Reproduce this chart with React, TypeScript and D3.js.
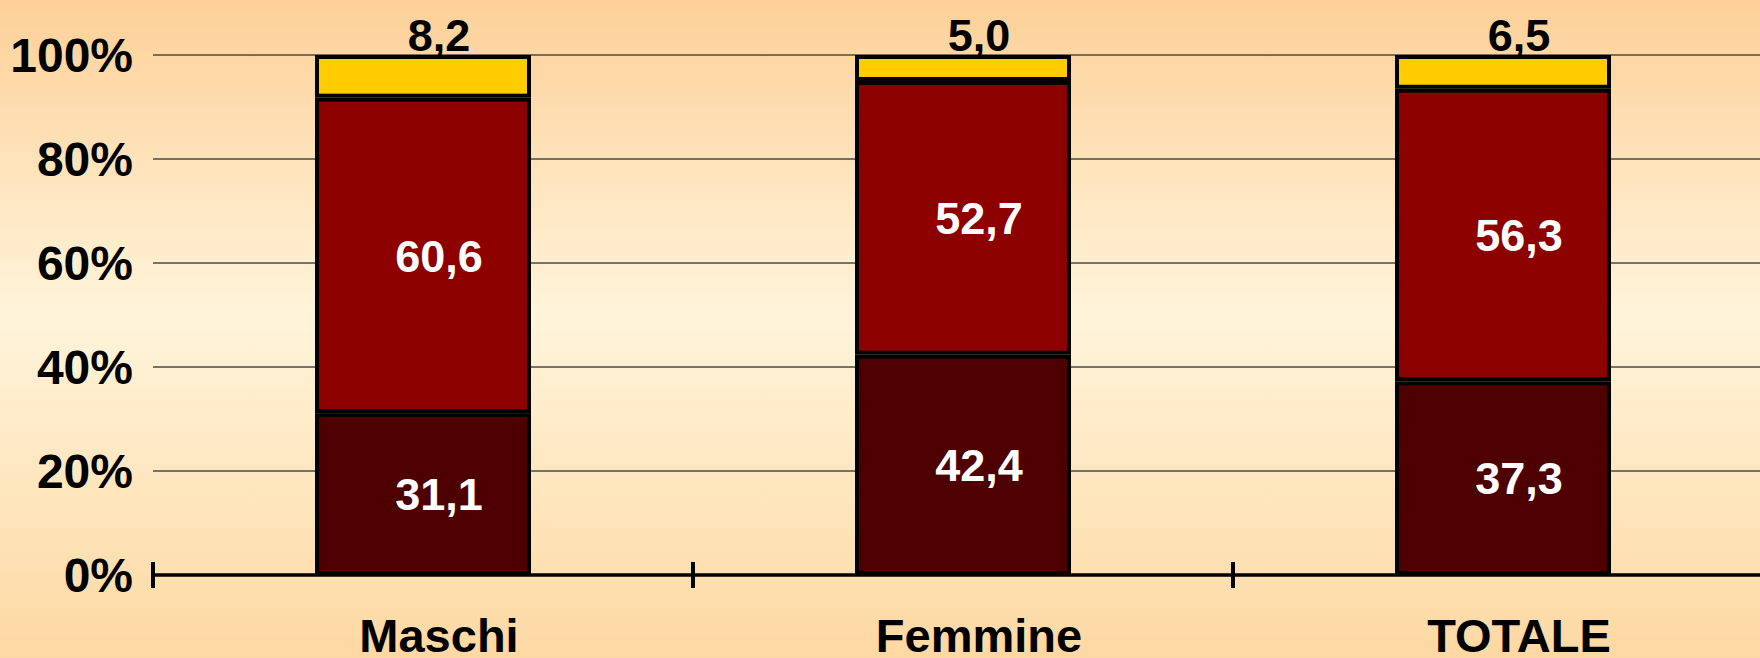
import React from "react";
import * as d3 from "d3";

const categories = ["Maschi", "Femmine", "TOTALE"];
const seriesBottom = [31.1, 42.4, 37.3];
const seriesMiddle = [60.6, 52.7, 56.3];
const seriesTop = [8.2, 5.0, 6.5];
const yTickValues = [0, 20, 40, 60, 80, 100];
const yTickLabels = ["0%", "20%", "40%", "60%", "80%", "100%"];
const seriesKeys = ["bottom", "middle", "top"];
const seriesColors = ["#4e0000", "#8c0000", "#ffcc00"];

const W = 1760;
const H = 658;
const margin = { left: 153, right: -13, top: 55, bottom: 83 };
const FONT = "'Liberation Sans', Arial, Helvetica, sans-serif";
const LABEL_DX = 16;

export default function App() {
  const rows = categories.map((c, i) => ({
    cat: c,
    bottom: seriesBottom[i],
    middle: seriesMiddle[i],
    top: seriesTop[i],
  }));
  const stacked = d3
    .stack<any>()
    .keys(seriesKeys)
    .offset(d3.stackOffsetExpand)(rows);

  const x = d3
    .scaleBand()
    .domain(categories)
    .range([margin.left, W - margin.right])
    .paddingInner(0.6)
    .paddingOuter(0.3);
  const y = d3.scaleLinear().domain([0, 1]).range([H - margin.bottom, margin.top]);
  const yPct = d3.scaleLinear().domain([0, 100]).range([H - margin.bottom, margin.top]);

  const step = x.step();
  const x0 = margin.left;
  const x1 = W - margin.right;
  const boundaries = d3.range(categories.length + 1).map((i) => x0 + i * step);
  const fmt = (v: number) => v.toFixed(1).replace(".", ",");
  const sw = 4;

  return (
    <div style={{ position: "fixed", left: 0, top: 0, width: W, height: H }}>
      <svg width={W} height={H} style={{ display: "block" }}>
        <defs>
          <linearGradient id="bg" x1="0" y1="0" x2="0" y2="1">
            <stop offset="0%" stopColor="#fdd098" />
            <stop offset="48%" stopColor="#fff4da" />
            <stop offset="100%" stopColor="#fdd8a2" />
          </linearGradient>
        </defs>
        <rect x={0} y={0} width={W} height={H} fill="url(#bg)" />

        {yTickValues.filter((v) => v > 0).map((v) => (
          <line key={"g" + v} x1={x0} x2={x1} y1={yPct(v)} y2={yPct(v)} stroke="#4a4a4a" strokeWidth={1.3} />
        ))}

        {yTickValues.map((v, i) => (
          <text
            key={"yl" + v}
            x={133}
            y={yPct(v) + 0.36 * 48}
            textAnchor="end"
            fontFamily={FONT}
            fontWeight="bold"
            fontSize={48}
            fill="#000"
          >
            {yTickLabels[i]}
          </text>
        ))}

        {stacked.map((s, si) =>
          s.map((d, ci) => {
            const bx = x(categories[ci]) as number;
            const bw = x.bandwidth();
            const yTop = y(d[1]);
            const yBot = y(d[0]);
            return (
              <rect
                key={"r" + si + "-" + ci}
                x={bx + sw / 2}
                y={yTop + sw / 2}
                width={bw - sw}
                height={Math.max(0, yBot - yTop - sw)}
                fill={seriesColors[si]}
                stroke="#000"
                strokeWidth={sw}
              />
            );
          })
        )}

        <line x1={x0} x2={x1} y1={y(0)} y2={y(0)} stroke="#000" strokeWidth={3.5} />
        {boundaries.map((bx, i) => (
          <line key={"t" + i} x1={bx} x2={bx} y1={y(0) - 13} y2={y(0) + 13} stroke="#000" strokeWidth={4} />
        ))}

        {stacked.map((s, si) =>
          s.map((d, ci) => {
            const cx = (x(categories[ci]) as number) + x.bandwidth() / 2 + LABEL_DX;
            const raw = [seriesBottom, seriesMiddle, seriesTop][si][ci];
            const isTop = si === stacked.length - 1;
            const ty = isTop ? y(d[1]) - 4 : (y(d[0]) + y(d[1])) / 2 + 0.36 * 45;
            return (
              <text
                key={"v" + si + "-" + ci}
                x={cx}
                y={ty}
                textAnchor="middle"
                fontFamily={FONT}
                fontWeight="bold"
                fontSize={45}
                fill={isTop ? "#000" : "#fff"}
              >
                {fmt(raw)}
              </text>
            );
          })
        )}

        {categories.map((c) => (
          <text
            key={"c" + c}
            x={(x(c) as number) + x.bandwidth() / 2 + LABEL_DX}
            y={652}
            textAnchor="middle"
            fontFamily={FONT}
            fontWeight="bold"
            fontSize={47}
            fill="#000"
          >
            {c}
          </text>
        ))}
      </svg>
    </div>
  );
}
